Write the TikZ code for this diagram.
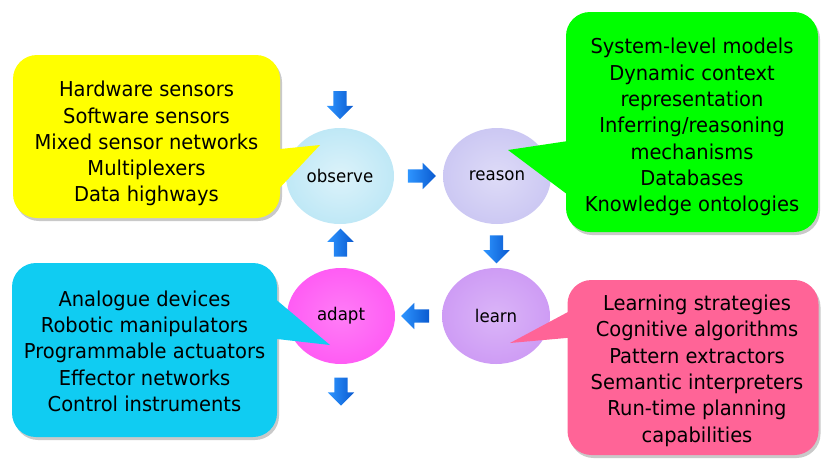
\documentclass[tikz,border=0pt]{standalone}
\usepackage{fontspec}
\setmainfont{DejaVu Sans}[FakeStretch=0.95]
\usetikzlibrary{shapes,arrows,positioning,calc,shadows}

\definecolor{observecol}{HTML}{BFE8F6}
\definecolor{reasoncol}{HTML}{CCC8F3}
\definecolor{learncol}{HTML}{CE9CF5}
\definecolor{adaptcol}{HTML}{FF5CF4}
\definecolor{sensecol}{HTML}{FFFF00}
\definecolor{modelcol}{HTML}{00FF00}
\definecolor{actcol}{HTML}{10CCF2}
\definecolor{cogcol}{HTML}{FF6497}
\definecolor{flowdark}{HTML}{0A5AD0}
\definecolor{flowlight}{HTML}{2E95FF}

\newcommand{\firstline}[1]{\rule{0pt}{#1}}

\begin{document}
\begin{tikzpicture}[
    x=1pt, y=-1pt,
    phase/.style={ellipse, minimum width=108pt, minimum height=96pt, inner sep=0pt, font=\fontsize{17.5}{20}\selectfont},
    callout/.style={rectangle, rounded corners=24pt, align=center, inner sep=0pt, font=\fontsize{20.5}{26.3}\selectfont,
        drop shadow={shadow xshift=2pt, shadow yshift=-3pt, opacity=.3, fill=black!70}},
    flow/.style={single arrow, single arrow head extend=6.5pt, minimum height=28pt, inner sep=6.5pt,
        left color=flowlight, right color=flowdark},
]

\useasboundingbox (0,0) rectangle (821,459);

% Main components
\node[phase, inner color=observecol!55!white, outer color=observecol] (observe) at (340,176) {observe};
\node[phase, inner color=reasoncol!65!white, outer color=reasoncol] (reason) at (497,176) {reason};
\node[phase, inner color=learncol!75!white, outer color=learncol] (learn) at (496,316) {learn};
\node[phase, inner color=adaptcol!80!white, outer color=adaptcol] (adapt) at (341,316) {adapt};

% Callout boxes
\node[callout, fill=sensecol, minimum width=267pt, minimum height=163pt] (sense) at (146.5,136.5)
    {\firstline{30pt}Hardware sensors\\Software sensors\\Mixed sensor networks\\Multiplexers\\Data highways};
\node[callout, fill=modelcol, minimum width=252pt, minimum height=220pt] (model) at (692,122)
    {\firstline{26pt}System-level models\\Dynamic context\\representation\\Inferring/reasoning\\mechanisms\\Databases\\Knowledge ontologies};
\node[callout, fill=actcol, minimum width=265pt, minimum height=174pt] (act) at (144.5,350)
    {\firstline{18pt}Analogue devices\\Robotic manipulators\\Programmable actuators\\Effector networks\\Control instruments};
\node[callout, fill=cogcol, minimum width=251pt, minimum height=175pt] (cog) at (693,367.5)
    {\firstline{22pt}\hspace*{8pt}Learning strategies\\\hspace*{8pt}Cognitive algorithms\\\hspace*{8pt}Pattern extractors\\\hspace*{8pt}Semantic interpreters\\\hspace*{8pt}Run-time planning\\\hspace*{8pt}capabilities};

% Pointers
\fill[sensecol] ($(sense.east)+(-10,13.5)$) -- ($(observe.center)+(-20,-31)$) -- ($(sense.east)+(-10,61.5)$) -- cycle;
\fill[modelcol] ($(model.west)+(9,18)$) -- ($(reason.center)+(11,-26)$) -- ($(model.west)+(9,78)$) -- cycle;
\fill[actcol] ($(act.east)+(-9,-57)$) -- ($(adapt.center)+(-11,29)$) -- ($(act.east)+(-9,-12)$) -- cycle;
\fill[cogcol] ($(cog.west)+(10,-60.5)$) -- ($(learn.center)+(14,27)$) -- ($(cog.west)+(10,-30.5)$) -- cycle;

% Flow arrows
\node[flow, shape border rotate=270] (intop) at ($(observe.north)+(0,-26)$) {};
\node[flow] (obsreas) at ($(observe)!0.5!(reason)$) {};
\node[flow, shape border rotate=270] (reaslearn) at ($(reason)!0.5!(learn)$) {};
\node[flow, shape border rotate=180] (learnadapt) at ($(learn)!0.5!(adapt)$) {};
\node[flow, shape border rotate=90] (adaptobs) at ($(adapt)!0.5!(observe)$) {};
\node[flow, shape border rotate=270] (outbot) at ($(adapt.south)+(0,24)$) {};

\end{tikzpicture}
\end{document}
